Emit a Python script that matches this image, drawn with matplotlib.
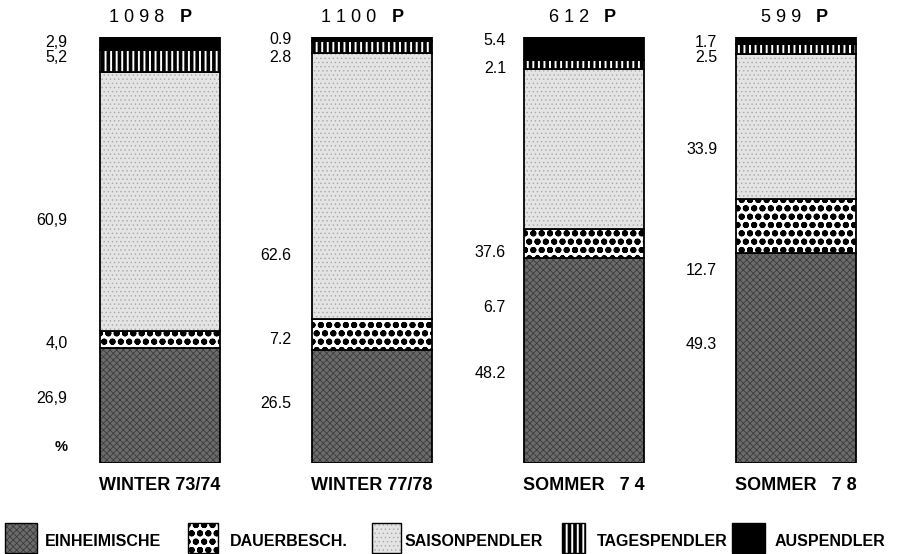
import matplotlib
matplotlib.use("Agg")
import matplotlib.pyplot as plt
from matplotlib.patches import Rectangle

plt.rcParams['font.family'] = ['Liberation Sans', 'DejaVu Sans']

# ================== data ==================
periods = ["WINTER 73/74", "WINTER 77/78", "SOMMER   7 4", "SOMMER   7 8"]
persons = ["1098", "1100", "612", "599"]
groups = ["EINHEIMISCHE", "DAUERBESCH.", "SAISONPENDLER", "TAGESPENDLER", "AUSPENDLER"]

einheimische = [26.9, 26.5, 48.2, 49.3]
dauerbesch = [4.0, 7.2, 6.7, 12.7]
saisonpendler = [60.9, 62.6, 37.6, 33.9]
tagespendler = [5.2, 2.8, 2.1, 2.5]
auspendler = [2.9, 0.9, 5.4, 1.7]
decimal_sep = [",", ".", ".", "."]

# ================== layout ==================
# label heights (in % of the bar) as placed in the original drawing
label_y = [
    [15.2, 28.0, 57.0, 95.1, 98.8],
    [14.0, 29.0, 48.6, 95.3, 99.3],
    [21.0, 36.6, 49.4, 92.5, 99.1],
    [27.8, 45.3, 73.7, 95.3, 98.8],
]
label_gap = [32, 20, 18, 19]  # pixels between label and bar

styles = [
    dict(facecolor="#6b6b6b", hatch="xxxxx", hatchcolor="#3c3c3c", hlw=0.6),
    dict(facecolor="white", hatch="oo", hatchcolor="black", hlw=2.0),
    dict(facecolor="#e4e4e4", hatch="....", hatchcolor="#a8a8a8", hlw=0.5),
    dict(facecolor="white", hatch="|||", hatchcolor="black", hlw=2.6),
    dict(facecolor="black", hatch=None, hatchcolor="black", hlw=1.0),
]

W, H = 899, 554
BAR_W = 0.5655


def styled(patch, st):
    patch.set_facecolor(st["facecolor"])
    patch.set_edgecolor(st["hatchcolor"])
    patch.set_linewidth(0)
    if st["hatch"]:
        patch.set_hatch(st["hatch"])
        if hasattr(patch, "set_hatch_linewidth"):
            patch.set_hatch_linewidth(st["hlw"])


fig = plt.figure(figsize=(W / 100, H / 100), dpi=100)
ax = fig.add_axes([0, 91 / H, 1, 426 / H])
ax.set_xlim(-0.752, 3.485)
ax.set_ylim(0, 100)
ax.axis("off")

series = [einheimische, dauerbesch, saisonpendler, tagespendler, auspendler]
x = list(range(len(periods)))
bottom = [0.0] * len(periods)
for vals, st in zip(series, styles):
    plt.rcParams['hatch.linewidth'] = st["hlw"]
    bars = ax.bar(x, vals, BAR_W, bottom=bottom)
    for b in bars:
        styled(b, st)
    # segment outlines
    ax.bar(x, vals, BAR_W, bottom=bottom, facecolor="none", edgecolor="black", linewidth=1.3)
    bottom = [b0 + v for b0, v in zip(bottom, vals)]

# value labels
for i in x:
    vals = [s[i] for s in series]
    for v, yy in zip(vals, label_y[i]):
        txt = f"{v:.1f}".replace(".", decimal_sep[i])
        ax.annotate(txt, xy=(i - BAR_W / 2, yy), xytext=(-label_gap[i], 0),
                    textcoords="offset pixels", ha="right", va="center", fontsize=11.5)
    # person count on top
    ax.annotate(" ".join(persons[i]), xy=(i, 100), xytext=(5, 20), textcoords="offset pixels",
                ha="right", va="center", fontsize=13)
    ax.annotate("P", xy=(i, 100), xytext=(20, 20), textcoords="offset pixels",
                ha="left", va="center", fontsize=13, fontweight="bold")
    ax.annotate(periods[i], xy=(i, 0), xytext=(0, -23), textcoords="offset pixels",
                ha="center", va="center", fontsize=13, fontweight="bold")

ax.annotate("%", xy=(-BAR_W / 2, 3.8), xytext=(-label_gap[0], 0), textcoords="offset pixels",
            ha="right", va="center", fontsize=10.5, fontweight="bold")

# ================== legend ==================
lg = fig.add_axes([0, 0, 1, 1])
lg.set_xlim(0, W)
lg.set_ylim(H, 0)
lg.axis("off")
patch_x = [(5, 37), (188, 218), (372, 401), (562, 585), (732, 765)]
text_x = [45, 230, 405, 597, 775]
for (x0, x1), tx, name, st in zip(patch_x, text_x, groups, styles):
    plt.rcParams['hatch.linewidth'] = st["hlw"]
    r = Rectangle((x0, 523), x1 - x0, 30)
    styled(r, st)
    lg.add_patch(r)
    lg.add_patch(Rectangle((x0, 523), x1 - x0, 30, facecolor="none", edgecolor="black", linewidth=1.0))
    lg.text(tx, 542, name, ha="left", va="center", fontsize=11.5, fontweight="bold")

fig.savefig("out.png", dpi=100)
